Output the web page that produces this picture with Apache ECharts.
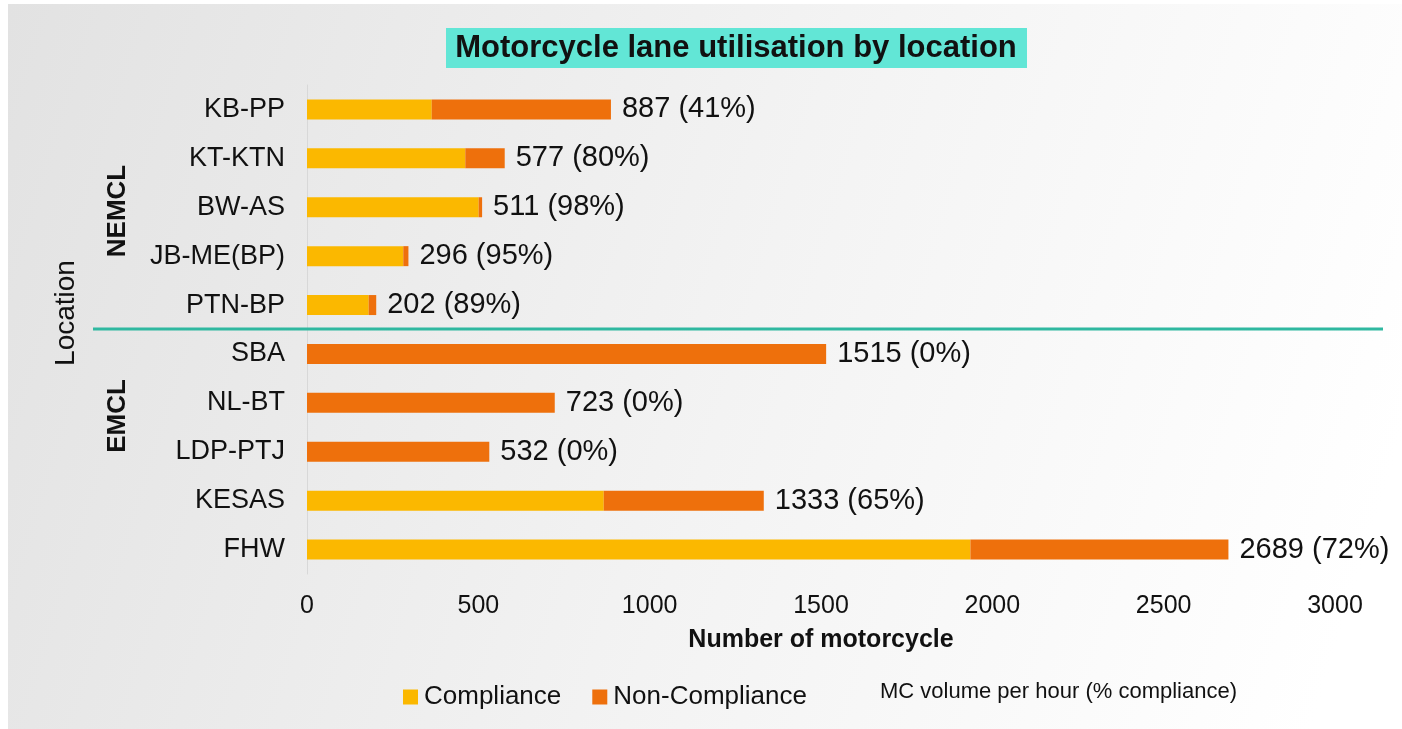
<!DOCTYPE html>
<html>
<head>
<meta charset="utf-8">
<script src="https://cdn.jsdelivr.net/npm/echarts@6/dist/echarts.min.js"></script>
<style>
  html, body { margin: 0; padding: 0; background: #ffffff; }
  #chart { width: 1402px; height: 729px; }
</style>
</head>
<body>
<div id="chart"></div>
<script>
var locations = ['KB-PP', 'KT-KTN', 'BW-AS', 'JB-ME(BP)', 'PTN-BP', 'SBA', 'NL-BT', 'LDP-PTJ', 'KESAS', 'FHW'];
var compliance = [364, 462, 501, 281, 180, 0, 0, 0, 866, 1936];
var nonCompliance = [523, 115, 10, 15, 22, 1515, 723, 532, 467, 753];
var totals = [887, 577, 511, 296, 202, 1515, 723, 532, 1333, 2689];
var pctCompliance = [41, 80, 98, 95, 89, 0, 0, 0, 65, 72];
var xTicks = [0, 500, 1000, 1500, 2000, 2500, 3000];

var chart = echarts.init(document.getElementById('chart'));
var FONT = 'Liberation Sans';

option = {
  animation: false,
  textStyle: { fontFamily: FONT },
  graphic: [
    {
      type: 'rect', z: -10, silent: true,
      shape: { x: 8, y: 4, width: 1394, height: 725 },
      style: {
        fill: new echarts.graphic.LinearGradient(0, 0, 1, 0.6, [
          { offset: 0, color: '#e2e2e2' },
          { offset: 0.55, color: '#f3f3f3' },
          { offset: 1, color: '#ffffff' }
        ])
      }
    },
    {
      type: 'rect', z: 1,
      shape: { x: 446, y: 28, width: 581, height: 40 },
      style: { fill: '#62e6d6' }
    },
    {
      type: 'text', z: 2, x: 736, y: 48,
      style: { text: 'Motorcycle lane utilisation by location', font: 'bold 31px "Liberation Sans"', fill: '#111', align: 'center', verticalAlign: 'middle' }
    },
    {
      type: 'line', z: 5,
      shape: { x1: 93, y1: 329, x2: 1383, y2: 329 },
      style: { stroke: '#2fb8a0', lineWidth: 3 }
    },
    {
      type: 'text', z: 2, x: 66, y: 313, rotation: Math.PI / 2,
      style: { text: 'Location', font: '28px "Liberation Sans"', fill: '#111', align: 'center', verticalAlign: 'middle' }
    },
    {
      type: 'text', z: 2, x: 118, y: 211, rotation: Math.PI / 2,
      style: { text: 'NEMCL', font: 'bold 26px "Liberation Sans"', fill: '#111', align: 'center', verticalAlign: 'middle' }
    },
    {
      type: 'text', z: 2, x: 118, y: 416, rotation: Math.PI / 2,
      style: { text: 'EMCL', font: 'bold 26px "Liberation Sans"', fill: '#111', align: 'center', verticalAlign: 'middle' }
    },
    {
      type: 'text', z: 2, x: 880, y: 692,
      style: { text: 'MC volume per hour (% compliance)', font: '22px "Liberation Sans"', fill: '#111', verticalAlign: 'middle' }
    }
  ],
  legend: {
    left: 398, top: 679,
    itemWidth: 15, itemHeight: 15, itemGap: 31,
    icon: 'rect',
    textStyle: { fontSize: 26, color: '#111', padding: [0, 0, 0, 1] },
    data: ['Compliance', 'Non-Compliance']
  },
  grid: { left: 307, right: 67, top: 85, bottom: 155 },
  xAxis: {
    type: 'value',
    min: 0, max: 3000, interval: 500,
    name: 'Number of motorcycle',
    nameLocation: 'middle',
    nameGap: 54,
    nameTextStyle: { fontSize: 25, fontWeight: 'bold', color: '#111' },
    axisLine: { show: false },
    axisTick: { show: false },
    splitLine: { show: false },
    axisLabel: { fontSize: 25, color: '#111', margin: 20,
      formatter: function (v) { return xTicks.indexOf(v) >= 0 ? String(v) : ''; } }
  },
  yAxis: {
    type: 'category',
    inverse: true,
    data: locations,
    axisLine: { show: true, lineStyle: { color: '#d8d8d8', width: 1 } },
    axisTick: { show: false },
    axisLabel: { fontSize: 27, color: '#111', margin: 22 }
  },
  series: [
    {
      name: 'Compliance',
      type: 'bar',
      stack: 'mc',
      barWidth: 20,
      itemStyle: { color: '#fbb800' },
      data: compliance
    },
    {
      name: 'Non-Compliance',
      type: 'bar',
      stack: 'mc',
      barWidth: 20,
      itemStyle: { color: '#ee700c' },
      label: {
        show: true,
        position: 'right',
        distance: 11,
        fontSize: 29,
        color: '#111',
        formatter: function (p) {
          return totals[p.dataIndex] + ' (' + pctCompliance[p.dataIndex] + '%)';
        }
      },
      data: nonCompliance
    }
  ]
};

chart.setOption(option);
</script>
</body>
</html>
